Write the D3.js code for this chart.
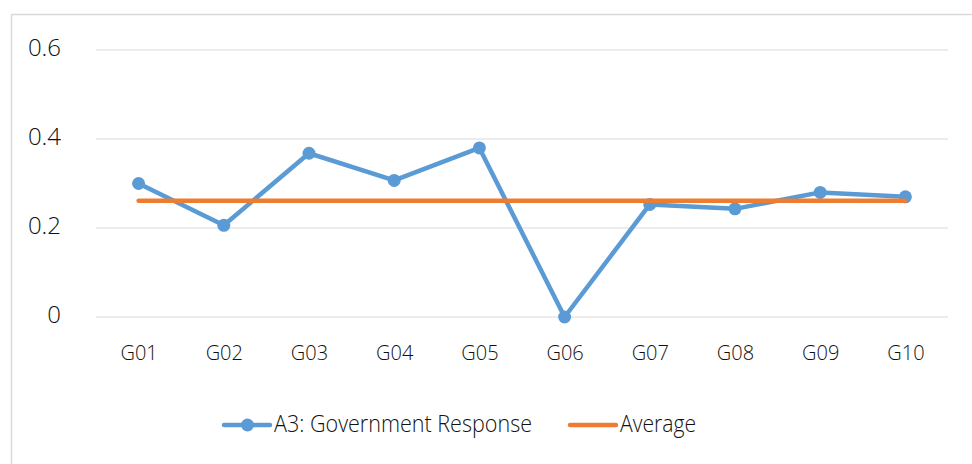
<!DOCTYPE html>
<html><head><meta charset="utf-8">
<script src="https://cdn.jsdelivr.net/npm/d3@7"></script>
<style>body{margin:0;background:#fff}svg{display:block}</style>
</head><body><svg id="c" width="972" height="464"></svg>
<script>
const categories = ["G01","G02","G03","G04","G05","G06","G07","G08","G09","G10"];
const responseValues = [0.30,0.206,0.368,0.307,0.380,0.0,0.253,0.243,0.280,0.270];
const averageValue = 0.261;
const yTicks = [0,0.2,0.4,0.6];
const yTickLabels = ["0","0.2","0.4","0.6"];
const seriesNames = ["A3: Government Response","Average"];

const svg = d3.select("#c");
const font = "'Open Sans', sans-serif";
const textCol = "#111111";
// chart border
svg.append("rect").attr("x",11.5).attr("y",14.5).attr("width",980).attr("height",470)
  .attr("fill","none").attr("stroke","#d9d9d9").attr("stroke-width",1.5);

const x = d3.scalePoint().domain(categories).range([96,948]).padding(0.5);
const y = d3.scaleLinear().domain([0,0.6]).range([317,50]);

// gridlines
svg.append("g").selectAll("line").data(yTicks).join("line")
  .attr("x1",96).attr("x2",948).attr("y1",d=>y(d)).attr("y2",d=>y(d))
  .attr("stroke","#d9d9d9").attr("stroke-width",1.2);

// y axis labels
const yAxis = d3.axisLeft(y).tickValues(yTicks).tickFormat((d,i)=>yTickLabels[i]).tickSize(0).tickPadding(0);
const ga = svg.append("g").attr("transform","translate(61,-2)").call(yAxis);
ga.select(".domain").remove();
ga.selectAll("text").attr("font-family",font).attr("font-size",24).attr("font-weight",300).attr("fill",textCol);

// x axis labels
const xAxis = d3.axisBottom(x).tickSize(0).tickPadding(0);
const gx = svg.append("g").attr("transform","translate(0,346)").call(xAxis);
gx.select(".domain").remove();
gx.selectAll("text").attr("font-family",font).attr("font-size",20).attr("font-weight",300).attr("fill",textCol);

const blue = "#5b9bd5", orange = "#ed7d31";
// line
const line = d3.line().x((d,i)=>x(categories[i])).y(d=>y(d));
svg.append("path").datum(responseValues).attr("d",line).attr("fill","none")
  .attr("stroke",blue).attr("stroke-width",4.5).attr("stroke-linejoin","round");
svg.append("g").selectAll("circle").data(responseValues).join("circle")
  .attr("cx",(d,i)=>x(categories[i])).attr("cy",d=>y(d)).attr("r",6.5).attr("fill",blue);
// average
svg.append("line").attr("x1",x(categories[0])).attr("x2",x(categories[categories.length-1]))
  .attr("y1",y(averageValue)).attr("y2",y(averageValue))
  .attr("stroke",orange).attr("stroke-width",4.5).attr("stroke-linecap","round");

// legend
const lg = svg.append("g");
lg.append("line").attr("x1",224).attr("x2",270).attr("y1",425).attr("y2",425)
  .attr("stroke",blue).attr("stroke-width",4.5).attr("stroke-linecap","round");
lg.append("circle").attr("cx",247.5).attr("cy",425).attr("r",6.5).attr("fill",blue);
lg.append("text").attr("x",274).attr("y",432).text(seriesNames[0])
  .attr("font-family",font).attr("font-size",24).attr("font-weight",300).attr("fill",textCol)
  .attr("textLength",258).attr("lengthAdjust","spacingAndGlyphs");
lg.append("line").attr("x1",570).attr("x2",616).attr("y1",425).attr("y2",425)
  .attr("stroke",orange).attr("stroke-width",4.5).attr("stroke-linecap","round");
lg.append("text").attr("x",620).attr("y",432).text(seriesNames[1])
  .attr("font-family",font).attr("font-size",24).attr("font-weight",300).attr("fill",textCol)
  .attr("textLength",76).attr("lengthAdjust","spacingAndGlyphs");
</script></body></html>
